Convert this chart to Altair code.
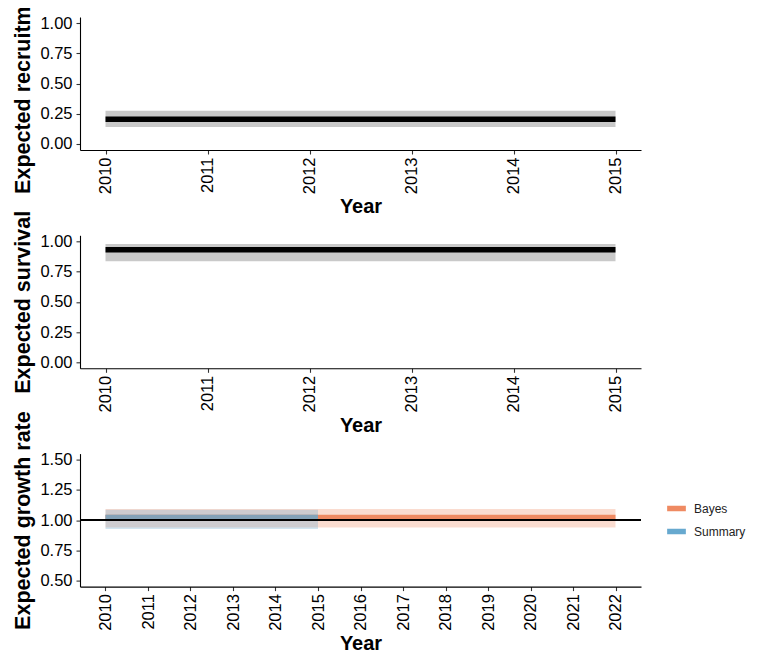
import altair as alt
import pandas as pd

FONT = "Liberation Sans"

# ---------------- data ----------------
years_short = [2010, 2011, 2012, 2013, 2014, 2015]
years_long = [2010, 2011, 2012, 2013, 2014, 2015, 2016, 2017, 2018, 2019, 2020, 2021, 2022]

recruit_mid = [0.205, 0.205, 0.205, 0.205, 0.205, 0.205]
recruit_lo = [0.14, 0.14, 0.14, 0.14, 0.14, 0.14]
recruit_hi = [0.275, 0.275, 0.275, 0.275, 0.275, 0.275]

surv_mid = [0.931, 0.931, 0.931, 0.931, 0.931, 0.931]
surv_lo = [0.836, 0.836, 0.836, 0.836, 0.836, 0.836]
surv_hi = [0.978, 0.978, 0.978, 0.978, 0.978, 0.978]

bayes_mid = [1.025, 1.025, 1.025, 1.025, 1.025, 1.025, 1.025, 1.025, 1.025, 1.025, 1.025, 1.025, 1.025]
bayes_lo = [0.939, 0.939, 0.939, 0.939, 0.939, 0.939, 0.939, 0.939, 0.939, 0.939, 0.939, 0.939, 0.939]
bayes_hi = [1.091, 1.091, 1.091, 1.091, 1.091, 1.091, 1.091, 1.091, 1.091, 1.091, 1.091, 1.091, 1.091]

summ_mid = [1.025, 1.025, 1.025, 1.025, 1.025, 1.025]
summ_lo = [0.926, 0.926, 0.926, 0.926, 0.926, 0.926]
summ_hi = [1.085, 1.085, 1.085, 1.085, 1.085, 1.085]

series_names = ["Bayes", "Summary"]
series_colors = ["#EF8A62", "#67A9CF"]

y01_ticks = [0.0, 0.25, 0.5, 0.75, 1.0]
ygr_ticks = [0.5, 0.75, 1.0, 1.25, 1.5]

# ---------------- tables ----------------
recruit = pd.DataFrame({"Year": years_short, "mid": recruit_mid, "lo": recruit_lo, "hi": recruit_hi})
surv = pd.DataFrame({"Year": years_short, "mid": surv_mid, "lo": surv_lo, "hi": surv_hi})
bayes = pd.DataFrame({"Year": years_long, "mid": bayes_mid, "lo": bayes_lo, "hi": bayes_hi,
                      "Method": ["Bayes"] * len(years_long)})
summ = pd.DataFrame({"Year": years_short, "mid": summ_mid, "lo": summ_lo, "hi": summ_hi,
                     "Method": ["Summary"] * len(years_short)})

W = 561
H = 133


def x_enc(values, lo, hi):
    return alt.X("Year:Q",
                 scale=alt.Scale(domain=[lo, hi], nice=False, zero=False),
                 axis=alt.Axis(values=values, format="d", labelAngle=270,
                               labelAlign="right", labelBaseline="middle",
                               labelOverlap=False, title="Year"))


def y_enc(field, title, ticks, dom):
    return alt.Y(field, scale=alt.Scale(domain=dom, nice=False, zero=False),
                 axis=alt.Axis(values=ticks, format=".2f", title=title,
                               labelOverlap=False, tickCount=len(ticks)))


def simple_panel(df, title):
    base = alt.Chart(df)
    x = x_enc(years_short, 2009.75, 2015.25)
    dom = [-0.05, 1.05]
    band = base.mark_area(color="#c9c9c9", opacity=1).encode(
        x=x,
        y=y_enc("lo:Q", title, y01_ticks, dom),
        y2="hi:Q",
    )
    line = base.mark_line(color="black", strokeWidth=5.5, strokeCap="butt").encode(
        x=x, y=y_enc("mid:Q", title, y01_ticks, dom)
    )
    return alt.layer(band, line).properties(width=W, height=H)


p1 = simple_panel(recruit, "Expected recruitment")
p2 = simple_panel(surv, "Expected survival")

xg = x_enc(years_long, 2009.4, 2022.6)
gdom = [0.45, 1.55]
gtitle = "Expected growth rate"
col_scale = alt.Scale(domain=series_names, range=series_colors)

line_b = alt.Chart(bayes).mark_line(strokeWidth=4.5, strokeCap="butt").encode(
    x=xg, y=y_enc("mid:Q", gtitle, ygr_ticks, gdom),
    color=alt.Color("Method:N", scale=col_scale,
                    legend=alt.Legend(title=None, orient="none", legendX=584, legendY=482,
                                      symbolType="stroke", symbolStrokeWidth=5.5,
                                      symbolSize=350, clipHeight=19,
                                      labelFontSize=12, labelFont=FONT,
                                      labelColor="#222222", labelOffset=5, rowPadding=4,
                                      padding=0)),
)
line_s = alt.Chart(summ).mark_line(strokeWidth=4.5, strokeCap="butt").encode(
    x=xg, y=y_enc("mid:Q", gtitle, ygr_ticks, gdom),
    color=alt.Color("Method:N", scale=col_scale),
)
rib_b = alt.Chart(bayes).mark_area(opacity=0.3).encode(
    x=xg, y=y_enc("lo:Q", gtitle, ygr_ticks, gdom), y2="hi:Q",
    fill=alt.Fill("Method:N", scale=col_scale, legend=None),
)
rib_s = alt.Chart(summ).mark_area(opacity=0.3).encode(
    x=xg, y=y_enc("lo:Q", gtitle, ygr_ticks, gdom), y2="hi:Q",
    fill=alt.Fill("Method:N", scale=col_scale, legend=None),
)
hline = alt.Chart(bayes).mark_rule(color="black", strokeWidth=1.1).encode(
    y=alt.datum(1.0)
)
p3 = alt.layer(line_b, line_s, rib_b, rib_s, hline).properties(width=W, height=H)

chart = alt.vconcat(p1, p2, p3, spacing=85.3, bounds="flush").properties(
    padding={"top": -35, "left": 4, "right": 5, "bottom": 5}
).configure_view(stroke=None).configure_axis(
    grid=False, labelOverlap=False,
    labelFont=FONT, labelFontSize=16.5, labelColor="black",
    titleFont=FONT, titleFontSize=20, titleFontWeight="bold", titleColor="black",
    domainColor="black", domainWidth=1.1,
    tickColor="#333333", tickSize=4, tickWidth=1.1,
    labelPadding=3,
).configure_axisY(
    titlePadding=5, labelPadding=4, titleFontSize=21.5
).configure_axisX(
    titlePadding=3
)

chart.save("out.html", embed_options={"renderer": "svg", "actions": False})
